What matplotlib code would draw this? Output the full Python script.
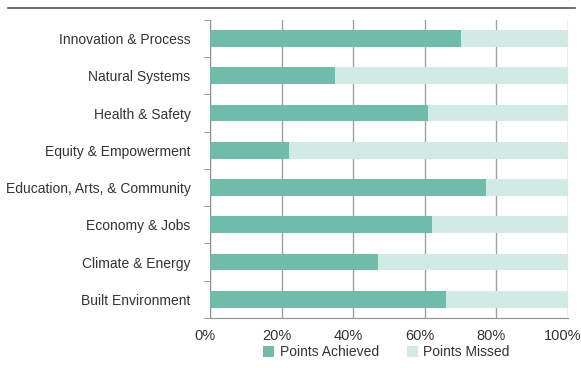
import matplotlib.pyplot as plt
import matplotlib.transforms as mtransforms
import numpy as np
from matplotlib.lines import Line2D

plt.rcParams['font.family'] = ['Liberation Sans', 'DejaVu Sans']

categories = ['Innovation & Process', 'Natural Systems', 'Health & Safety',
              'Equity & Empowerment', 'Education, Arts, & Community',
              'Economy & Jobs', 'Climate & Energy', 'Built Environment']
achieved = [70, 35, 61, 22, 77, 62, 47, 66]
missed = [100 - a for a in achieved]
xticks = [0, 20, 40, 60, 80, 100]
xticklabels = ['0%', '20%', '40%', '60%', '80%', '100%']

c_ach = '#6fbcaa'
c_mis = '#d2eae4'
txt = '#333333'

fig = plt.figure(figsize=(5.81, 3.68), dpi=100)
ax = fig.add_axes([0.3614, 0.136, 0.616, 0.810])

y = np.arange(len(categories))
ax.barh(y, achieved, height=0.45, color=c_ach, edgecolor='none',
        label='Points Achieved', zorder=3)
ax.barh(y, missed, left=achieved, height=0.45, color=c_mis, edgecolor='none',
        label='Points Missed', zorder=3)

ax.set_ylim(len(categories) - 0.5, -0.5)
ax.set_xlim(0, 100)
ax.set_yticks(y)
ax.set_yticklabels(categories, fontsize=10, color=txt)
ax.set_yticks(np.arange(-0.5, len(categories)), minor=True)
ax.tick_params(axis='y', which='major', length=0, pad=14)
ax.tick_params(axis='y', which='minor', length=4, color='#888888')
ax.set_xticks(xticks)
ax.set_xticklabels(xticklabels, fontsize=10.5, color=txt)
ax.tick_params(axis='x', length=0, pad=8)
# shift x labels a bit left, like the 3D floor in the original
shift = mtransforms.ScaledTranslation(-5 / 100, 0, fig.dpi_scale_trans)
for lab in ax.get_xticklabels():
    lab.set_transform(lab.get_transform() + shift)

ax.grid(axis='x', color='#a0a0a0', linewidth=1, zorder=0)
for s in ['top', 'right']:
    ax.spines[s].set_visible(False)
ax.spines['left'].set_color('#909090')
ax.spines['bottom'].set_color('#909090')

fig.legend(loc='lower center', bbox_to_anchor=(0.665, -0.01), ncol=2,
           frameon=False, fontsize=10, handlelength=0.8, handleheight=0.8,
           columnspacing=2.0, handletextpad=0.4, labelcolor=txt)

fig.add_artist(Line2D([0.014, 0.99], [0.978, 0.978], color='#555555',
                      linewidth=1.2, transform=fig.transFigure))

fig.savefig('out.png', dpi=100)
